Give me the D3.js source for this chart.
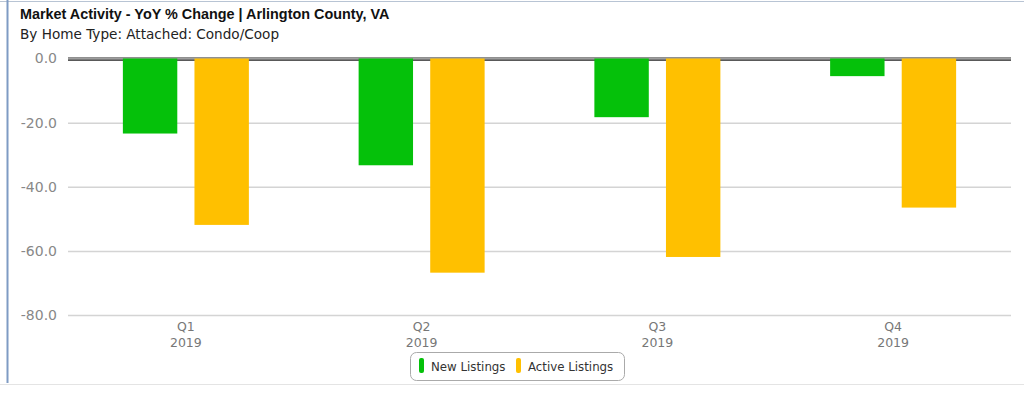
<!DOCTYPE html>
<html><head><meta charset="utf-8">
<script src="https://cdn.jsdelivr.net/npm/d3@7"></script>
<style>html,body{margin:0;padding:0;background:#fff;overflow:hidden}</style>
</head><body>
<svg id="c" width="1024" height="393"></svg>
<script>
const categories = ["Q1", "Q2", "Q3", "Q4"];
const years = ["2019", "2019", "2019", "2019"];
const seriesNames = ["New Listings", "Active Listings"];
const newListings = [-23.4, -33.3, -18.3, -5.5];
const activeListings = [-51.9, -66.8, -61.9, -46.5];
const yTicks = [0, -20, -40, -60, -80];
const yTickLabels = ["0.0", "-20.0", "-40.0", "-60.0", "-80.0"];
const colors = ["#05c10a", "#ffc000"];

(function () {
const svg = d3.select("#c");
const W = 1024, H = 393;
const pL = 68, pR = 1011, pT = 58.5, pB = 315;

// frame
svg.append("line").attr("x1", 0).attr("x2", W).attr("y1", 1.5).attr("y2", 1.5).attr("stroke", "#b8c4d4").attr("stroke-width", 1);
svg.append("line").attr("x1", 7.5).attr("x2", 7.5).attr("y1", 0).attr("y2", 383).attr("stroke", "#7f9bc4").attr("stroke-width", 2);
svg.append("line").attr("x1", 0).attr("x2", W).attr("y1", 384.5).attr("y2", 384.5).attr("stroke", "#e4e4e4").attr("stroke-width", 1);

// titles
svg.append("text").attr("x", 20).attr("y", 19).attr("font-family", "Liberation Sans, Arial, sans-serif")
  .attr("font-size", 14.4).attr("font-weight", "bold").attr("fill", "#111").text("Market Activity - YoY % Change | Arlington County, VA");
svg.append("text").attr("x", 20).attr("y", 39).attr("font-family", "DejaVu Sans, sans-serif")
  .attr("font-size", 13.6).attr("fill", "#222").text("By Home Type: Attached: Condo/Coop");

const y = d3.scaleLinear().domain([0, -80]).range([pT, pB]);
const x0 = d3.scaleBand().domain(categories).range([pL, pR]).paddingInner(0).paddingOuter(0);
const x1 = d3.scaleBand().domain(seriesNames).range([x0.bandwidth()/2 - 63, x0.bandwidth()/2 + 63]).paddingInner(0.24).paddingOuter(0);

// grid
const yAxis = d3.axisLeft(y).tickValues(yTicks).tickSize(-(pR - pL)).tickFormat((d, i) => yTickLabels[i]);
const ga = svg.append("g").attr("transform", `translate(${pL},0)`).call(yAxis);
ga.select(".domain").remove();
ga.selectAll(".tick line").attr("stroke", d => d === 0 ? "none" : "#d4d4d4").attr("stroke-width", 1.5);
ga.selectAll(".tick text").attr("x", -11).attr("font-family", "DejaVu Sans, sans-serif").attr("font-size", 14).attr("fill", "#888");

// zero line (double)
const y0 = Math.round(y(0));
svg.append("line").attr("x1", pL).attr("x2", pR).attr("y1", y0 - 1).attr("y2", y0 - 1).attr("stroke", "#222").attr("stroke-width", 1.2);
svg.append("line").attr("x1", pL).attr("x2", pR).attr("y1", y0).attr("y2", y0).attr("stroke", "#aaa").attr("stroke-width", 1);
svg.append("line").attr("x1", pL).attr("x2", pR).attr("y1", y0 + 1.2).attr("y2", y0 + 1.2).attr("stroke", "#222").attr("stroke-width", 1.2);

// bars
const data = categories.map((c, i) => ({c, vals: [newListings[i], activeListings[i]]}));
const g = svg.append("g");
data.forEach(d => {
  d.vals.forEach((v, j) => {
    g.append("rect")
      .attr("x", x0(d.c) + x1(seriesNames[j]))
      .attr("y", y(0))
      .attr("width", x1.bandwidth())
      .attr("height", y(v) - y(0))
      .attr("fill", colors[j]);
  });
});

// x labels
const xl = svg.append("g");
categories.forEach((c, i) => {
  const cx = x0(c) + x0.bandwidth()/2;
  const t = xl.append("text").attr("x", cx).attr("text-anchor", "middle").attr("font-family", "DejaVu Sans, sans-serif").attr("font-size", 12.5).attr("fill", "#777");
  t.append("tspan").attr("x", cx).attr("y", 331).text(c);
  t.append("tspan").attr("x", cx).attr("y", 347).text(years[i]);
});

// legend
const lg = svg.append("g");
lg.append("rect").attr("x", 410.5).attr("y", 352.5).attr("width", 214).attr("height", 28).attr("rx", 6)
  .attr("fill", "#fff").attr("stroke", "#aaa").attr("stroke-width", 1);
const items = [{x: 419, name: seriesNames[0], c: colors[0]}, {x: 516, name: seriesNames[1], c: colors[1]}];
items.forEach(it => {
  lg.append("rect").attr("x", it.x).attr("y", 358).attr("width", 5).attr("height", 15).attr("rx", 2).attr("fill", it.c);
  lg.append("text").attr("x", it.x + 12).attr("y", 371).attr("font-family", "DejaVu Sans, sans-serif").attr("font-size", 11.8).attr("fill", "#333").text(it.name);
});
})();
</script>
</body></html>
